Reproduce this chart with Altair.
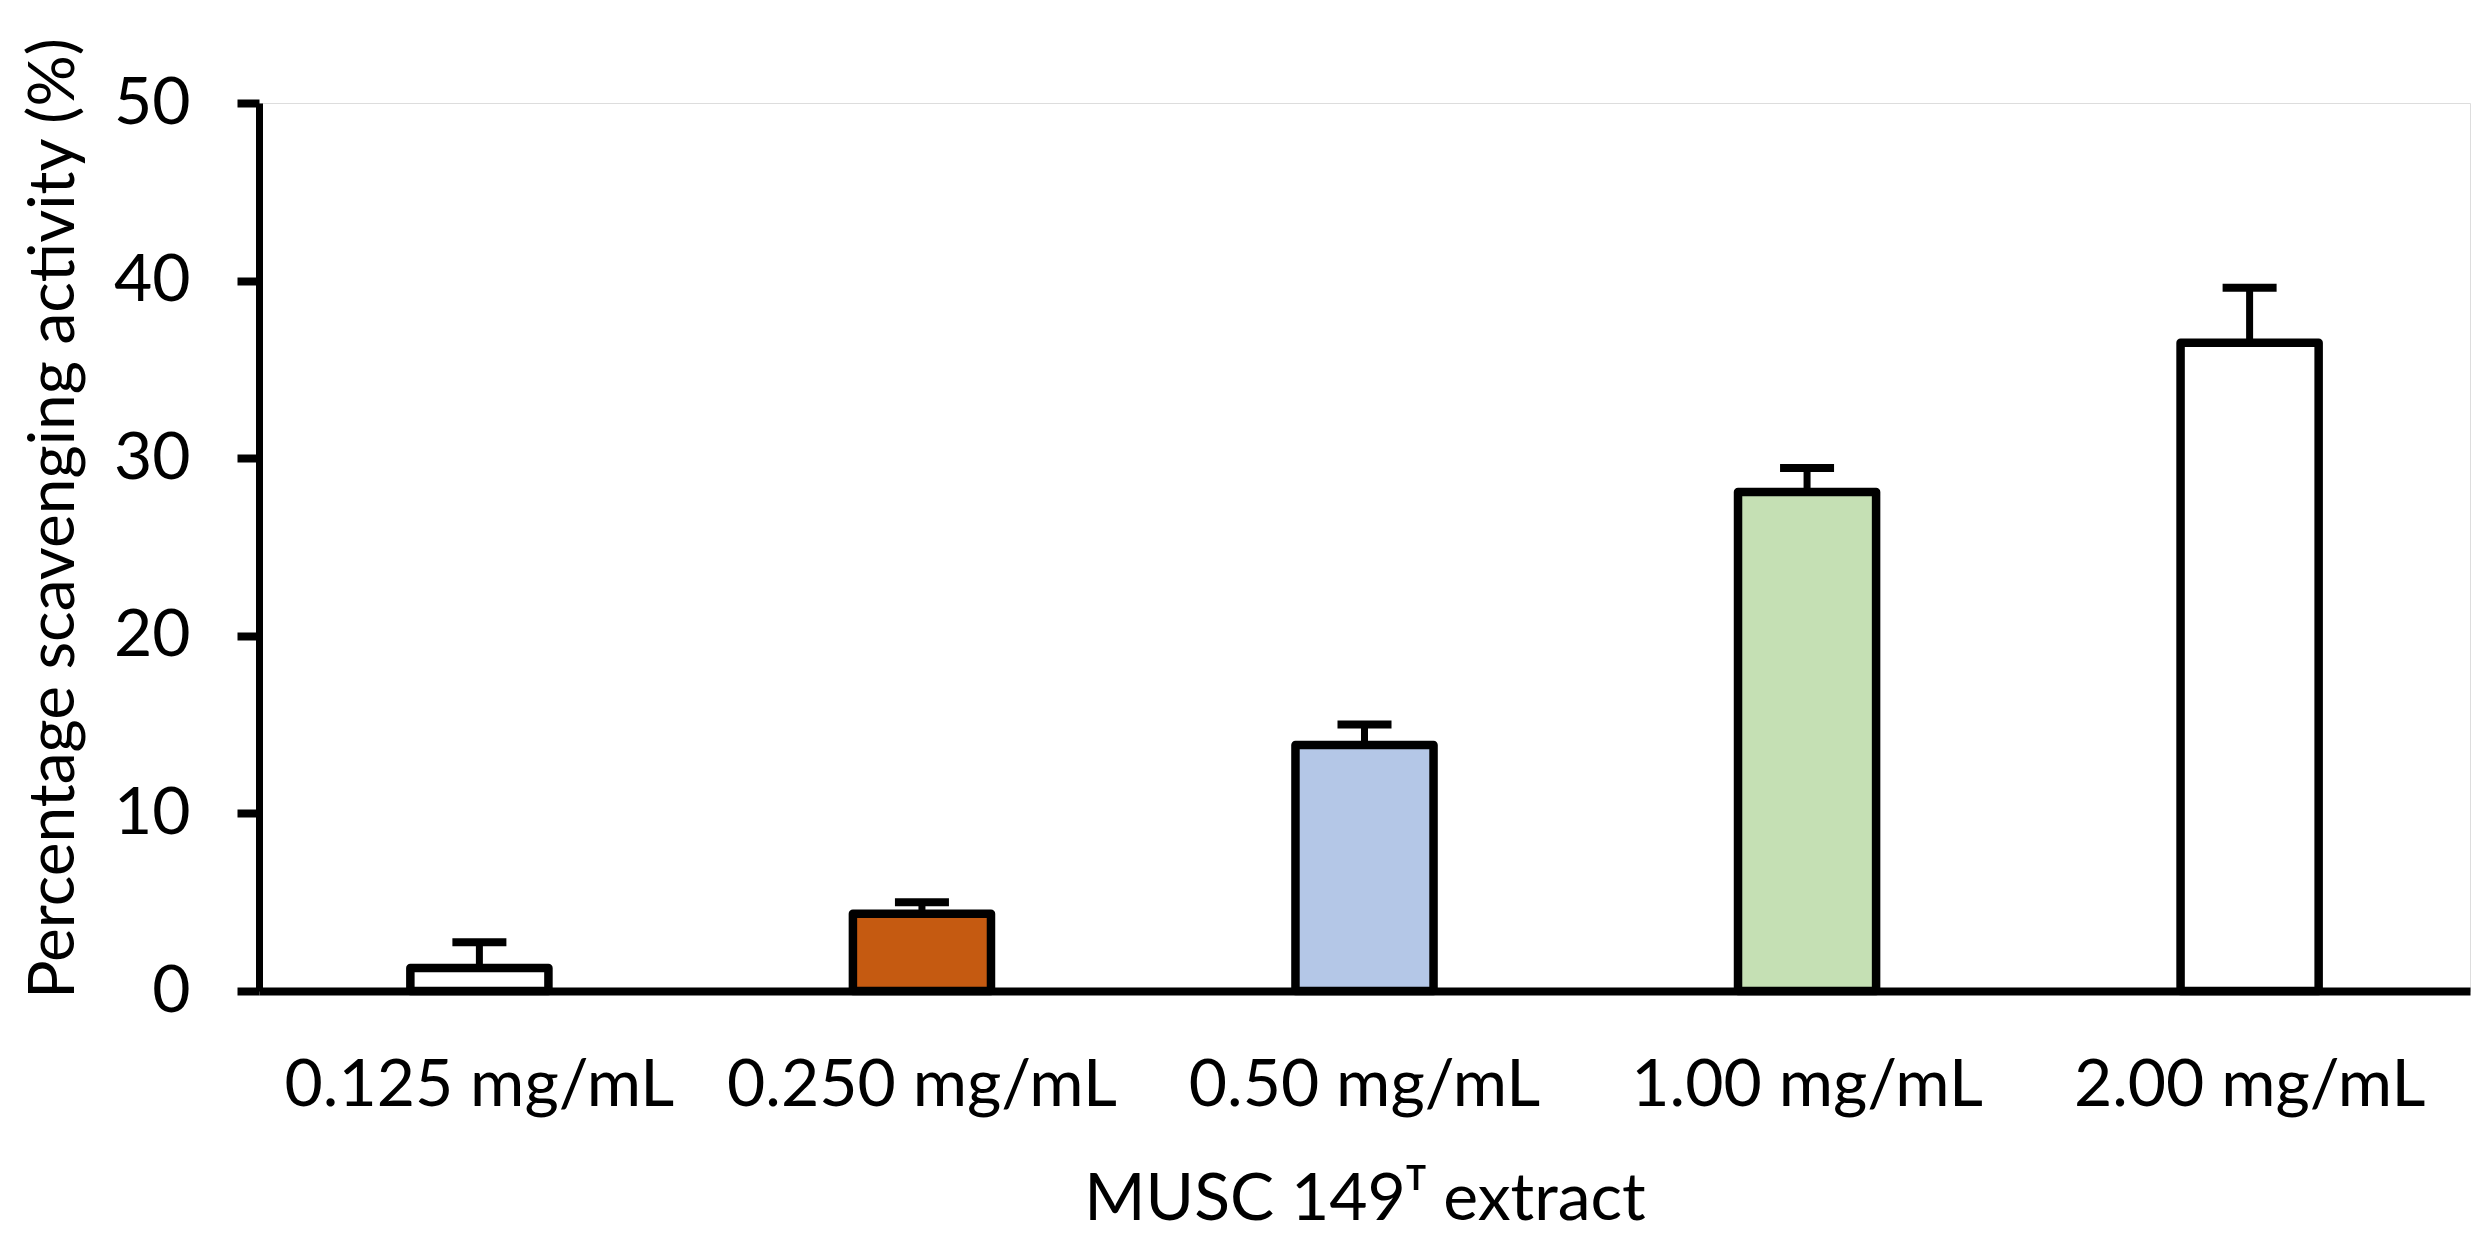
import altair as alt
import pandas as pd

categories = ["0.125 mg/mL", "0.250 mg/mL", "0.50 mg/mL", "1.00 mg/mL", "2.00 mg/mL"]
values = [1.3, 4.35, 13.85, 28.1, 36.5]
errors = [1.45, 0.65, 1.15, 1.35, 3.1]
fills = ["#FFFFFF", "#C55A11", "#B4C7E7", "#C5E0B4", "#FFFFFF"]

df = pd.DataFrame({
    "cat": categories,
    "val": values,
    "err": errors,
    "fill": fills,
})
df["upper"] = df["val"] + df["err"]

FONT = "Lato"

x_enc = alt.X(
    "cat:N",
    sort=categories,
    scale=alt.Scale(paddingInner=0.688, paddingOuter=0.342),
    axis=alt.Axis(
        title="MUSC 149ᵀ extract",
        labelAngle=0,
        labelAlign="center",
        labelLimit=0,
        ticks=False,
        tickSize=0,
        labelPadding=114,
        labelBaseline="alphabetic",
        labelFont=FONT,
        labelFontSize=66,
        labelColor="black",
        domainColor="black",
        domainWidth=8,
        titleFont=FONT,
        titleFontSize=66,
        titleFontWeight="normal",
        titleColor="black",
        titleBaseline="alphabetic",
        titleY=228,
        grid=False,
    ),
)

y_scale = alt.Scale(domain=[0, 50], nice=False)

bars = alt.Chart(df).mark_bar(stroke="black", strokeWidth=8.5, strokeJoin="round").encode(
    x=x_enc,
    y=alt.Y(
        "val:Q",
        scale=y_scale,
        axis=alt.Axis(
            title="Percentage scavenging activity (%)",
            values=[0, 10, 20, 30, 40, 50],
            grid=False,
            domainColor="black",
            domainWidth=7,
            tickColor="black",
            tickWidth=8,
            tickSize=22,
            labelPadding=47,
            labelFont=FONT,
            labelFontSize=66,
            labelColor="black",
            titleFont=FONT,
            titleFontSize=64,
            titleFontWeight="normal",
            titleColor="black",
            titleBaseline="alphabetic",
            titleAlign="center",
            titleAngle=-90,
            titleLimit=0,
            titleX=-186,
            titleY=415,
        ),
    ),
    fill=alt.Fill("fill:N", scale=None),
)

stems = alt.Chart(df).mark_rule(color="black", strokeWidth=7).encode(
    x=alt.X("cat:N", sort=categories),
    y=alt.Y("val:Q", scale=y_scale),
    y2="upper:Q",
)

caps = alt.Chart(df).mark_tick(color="black", opacity=1, thickness=8, size=54).encode(
    x=alt.X("cat:N", sort=categories),
    y=alt.Y("upper:Q", scale=y_scale),
)

chart = alt.layer(stems, bars, caps).properties(
    width=2211,
    height=888,
    autosize=alt.AutoSizeParams(type="none"),
    padding={"left": 251, "top": 95, "right": 4, "bottom": 242},
).configure_view(stroke=None).configure(background="white")

chart.save("out.html", embed_options={"renderer": "svg", "actions": False})
